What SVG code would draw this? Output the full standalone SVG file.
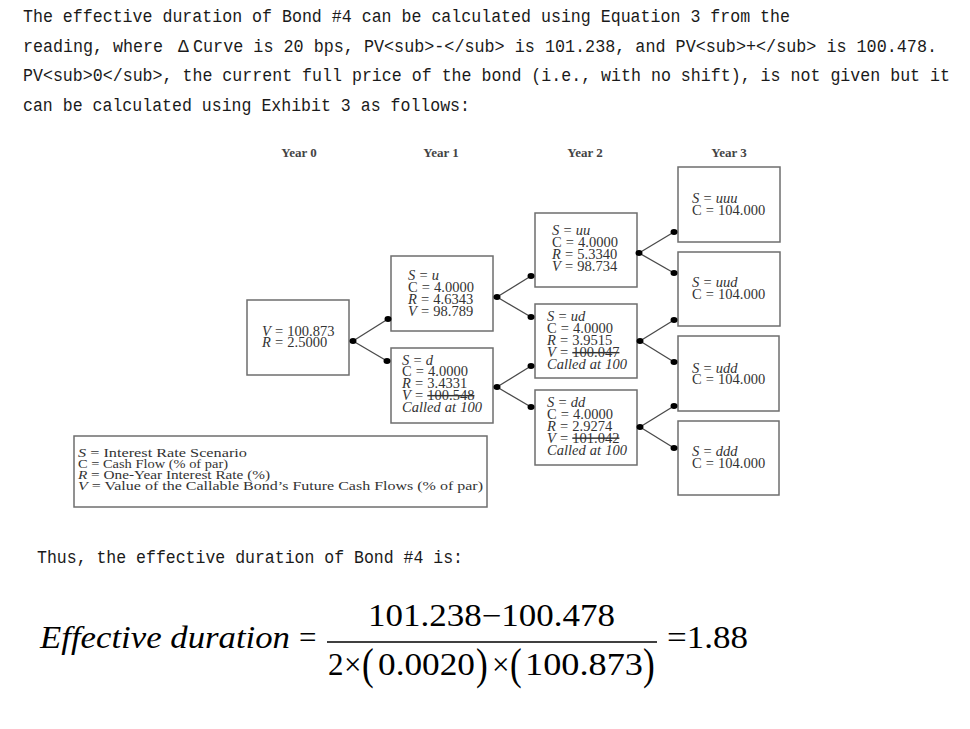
<svg xmlns="http://www.w3.org/2000/svg" width="970" height="729" viewBox="0 0 970 729">
<style>
.top{font-family:"Liberation Mono",monospace;font-size:18px;fill:#1a1a1a}
.yr{font-family:"Liberation Serif",serif;font-weight:bold;font-size:13px;fill:#444;text-anchor:middle}
.box{fill:#fff;stroke:#6e6e6e;stroke-width:1.5}
.nt{font-family:"Liberation Serif",serif;font-size:14.5px;fill:#333;word-spacing:0.5px}
.lg{font-family:"Liberation Serif",serif;font-size:13.5px;fill:#333}
.it{font-style:italic}
.st{text-decoration:line-through}
.conn line{stroke:#4a4a4a;stroke-width:1.3}
.conn ellipse{fill:#000}
.fm{font-family:"Liberation Serif",serif;font-size:31px;fill:#000}
</style>

<g id="intro">
<text class="top" x="23" y="22" textLength="767" lengthAdjust="spacingAndGlyphs">The effective duration of Bond #4 can be calculated using Equation 3 from the</text>
<text class="top" x="23" y="52" textLength="140" lengthAdjust="spacingAndGlyphs">reading, where</text>
<text class="top" x="178" y="52">Δ</text>
<text class="top" x="193" y="52" textLength="744" lengthAdjust="spacingAndGlyphs">Curve is 20 bps, PV&lt;sub&gt;-&lt;/sub&gt; is 101.238, and PV&lt;sub&gt;+&lt;/sub&gt; is 100.478.</text>
<text class="top" x="23" y="81" textLength="927" lengthAdjust="spacingAndGlyphs">PV&lt;sub&gt;0&lt;/sub&gt;, the current full price of the bond (i.e., with no shift), is not given but it</text>
<text class="top" x="23" y="111" textLength="447" lengthAdjust="spacingAndGlyphs">can be calculated using Exhibit 3 as follows:</text>
</g>

<g id="years">
<text class="yr" x="299" y="157">Year 0</text>
<text class="yr" x="441" y="157">Year 1</text>
<text class="yr" x="585" y="157">Year 2</text>
<text class="yr" x="729" y="157">Year 3</text>
</g>

<g id="connectors" class="conn">
<line x1="353" y1="341" x2="388" y2="319"/>
<line x1="353" y1="341" x2="387" y2="361"/>
<line x1="497" y1="297" x2="531" y2="276"/>
<line x1="497" y1="297" x2="531" y2="317"/>
<line x1="497" y1="387" x2="531" y2="366"/>
<line x1="497" y1="387" x2="531" y2="407"/>
<line x1="639" y1="253" x2="674" y2="232"/>
<line x1="639" y1="253" x2="674" y2="273"/>
<line x1="640" y1="341" x2="674" y2="320"/>
<line x1="640" y1="341" x2="674" y2="362"/>
<line x1="640" y1="427" x2="674" y2="406"/>
<line x1="640" y1="427" x2="674" y2="448"/>
</g>

<g id="node-0">
<rect class="box" x="247" y="300" width="102" height="75"/>
<text class="nt" x="262" y="336"><tspan class="it">V</tspan> = 100.873</text>
<text class="nt" x="262" y="347"><tspan class="it">R</tspan> = 2.5000</text>
</g>

<g id="node-u">
<rect class="box" x="391" y="256" width="102" height="75"/>
<text class="nt" x="408" y="279.5"><tspan class="it">S</tspan> = <tspan class="it">u</tspan></text>
<text class="nt" x="408" y="291.5">C = 4.0000</text>
<text class="nt" x="408" y="303.5"><tspan class="it">R</tspan> = 4.6343</text>
<text class="nt" x="408" y="315.5"><tspan class="it">V</tspan> = 98.789</text>
</g>

<g id="node-d">
<rect class="box" x="391" y="348" width="102" height="75"/>
<text class="nt" x="402" y="364.5"><tspan class="it">S</tspan> = <tspan class="it">d</tspan></text>
<text class="nt" x="402" y="376">C = 4.0000</text>
<text class="nt" x="402" y="388"><tspan class="it">R</tspan> = 3.4331</text>
<text class="nt" x="402" y="400"><tspan class="it">V</tspan> = <tspan class="st">100.548</tspan></text>
<text class="nt it" x="402" y="412">Called at 100</text>
</g>

<g id="node-uu">
<rect class="box" x="535" y="213" width="102" height="74"/>
<text class="nt" x="552" y="235"><tspan class="it">S</tspan> = <tspan class="it">uu</tspan></text>
<text class="nt" x="552" y="247">C = 4.0000</text>
<text class="nt" x="552" y="259"><tspan class="it">R</tspan> = 5.3340</text>
<text class="nt" x="552" y="271"><tspan class="it">V</tspan> = 98.734</text>
</g>

<g id="node-ud">
<rect class="box" x="535" y="304" width="102" height="74"/>
<text class="nt" x="547" y="321"><tspan class="it">S</tspan> = <tspan class="it">ud</tspan></text>
<text class="nt" x="547" y="333">C = 4.0000</text>
<text class="nt" x="547" y="345"><tspan class="it">R</tspan> = 3.9515</text>
<text class="nt" x="547" y="357"><tspan class="it">V</tspan> = <tspan class="st">100.047</tspan></text>
<text class="nt it" x="547" y="368.5">Called at 100</text>
</g>

<g id="node-dd">
<rect class="box" x="535" y="390" width="102" height="75"/>
<text class="nt" x="547" y="407"><tspan class="it">S</tspan> = <tspan class="it">dd</tspan></text>
<text class="nt" x="547" y="419">C = 4.0000</text>
<text class="nt" x="547" y="431"><tspan class="it">R</tspan> = 2.9274</text>
<text class="nt" x="547" y="442.5"><tspan class="it">V</tspan> = <tspan class="st">101.042</tspan></text>
<text class="nt it" x="547" y="455">Called at 100</text>
</g>

<g id="node-uuu">
<rect class="box" x="678" y="167" width="102" height="75"/>
<text class="nt" x="692" y="202.5"><tspan class="it">S</tspan> = <tspan class="it">uuu</tspan></text>
<text class="nt" x="692" y="214.5">C = 104.000</text>
</g>

<g id="node-uud">
<rect class="box" x="678" y="252" width="102" height="74"/>
<text class="nt" x="692" y="287"><tspan class="it">S</tspan> = <tspan class="it">uud</tspan></text>
<text class="nt" x="692" y="298.5">C = 104.000</text>
</g>

<g id="node-udd">
<rect class="box" x="678" y="336" width="101" height="75"/>
<text class="nt" x="692" y="372.5"><tspan class="it">S</tspan> = <tspan class="it">udd</tspan></text>
<text class="nt" x="692" y="383.5">C = 104.000</text>
</g>

<g id="node-ddd">
<rect class="box" x="678" y="421" width="101" height="74"/>
<text class="nt" x="692" y="456"><tspan class="it">S</tspan> = <tspan class="it">ddd</tspan></text>
<text class="nt" x="692" y="467.5">C = 104.000</text>
</g>

<g id="dots" class="conn">
<ellipse cx="353" cy="341" rx="3.5" ry="3"/>
<ellipse cx="388" cy="319" rx="3.5" ry="3"/>
<ellipse cx="387" cy="361" rx="3.5" ry="3"/>
<ellipse cx="497" cy="297" rx="3.5" ry="3"/>
<ellipse cx="531" cy="276" rx="3.5" ry="3"/>
<ellipse cx="531" cy="317" rx="3.5" ry="3"/>
<ellipse cx="497" cy="387" rx="3.5" ry="3"/>
<ellipse cx="531" cy="366" rx="3.5" ry="3"/>
<ellipse cx="531" cy="407" rx="3.5" ry="3"/>
<ellipse cx="639" cy="253" rx="3.5" ry="3"/>
<ellipse cx="674" cy="232" rx="3.5" ry="3"/>
<ellipse cx="674" cy="273" rx="3.5" ry="3"/>
<ellipse cx="640" cy="341" rx="3.5" ry="3"/>
<ellipse cx="674" cy="320" rx="3.5" ry="3"/>
<ellipse cx="674" cy="362" rx="3.5" ry="3"/>
<ellipse cx="640" cy="427" rx="3.5" ry="3"/>
<ellipse cx="674" cy="406" rx="3.5" ry="3"/>
<ellipse cx="674" cy="448" rx="3.5" ry="3"/>
</g>

<g id="legend">
<rect class="box" x="74" y="436" width="413" height="71"/>
<text class="lg" x="78" y="457" textLength="169" lengthAdjust="spacingAndGlyphs"><tspan class="it">S</tspan> = Interest Rate Scenario</text>
<text class="lg" x="78" y="468" textLength="150" lengthAdjust="spacingAndGlyphs">C = Cash Flow (% of par)</text>
<text class="lg" x="78" y="478.5" textLength="192" lengthAdjust="spacingAndGlyphs"><tspan class="it">R</tspan> = One-Year Interest Rate (%)</text>
<text class="lg" x="78" y="489.5" textLength="405" lengthAdjust="spacingAndGlyphs"><tspan class="it">V</tspan> = Value of the Callable Bond’s Future Cash Flows (% of par)</text>
</g>

<g id="conclusion">
<text class="top" x="37" y="563" textLength="426" lengthAdjust="spacingAndGlyphs">Thus, the effective duration of Bond #4 is:</text>
</g>

<g id="formula">
<text class="fm it" x="40" y="648" textLength="250" lengthAdjust="spacingAndGlyphs">Effective duration</text>
<text class="fm" x="299" y="648">=</text>
<text class="fm" x="368" y="626" textLength="247" lengthAdjust="spacingAndGlyphs">101.238−100.478</text>
<line x1="327" y1="642" x2="657" y2="642" stroke="#000" stroke-width="1.5"/>
<text class="fm" x="328" y="675">2</text>
<text class="fm" x="344" y="675">×</text>
<text class="fm" transform="translate(362,679) scale(0.8,1)" style="font-size:44px">(</text>
<text class="fm" x="378" y="675" textLength="97" lengthAdjust="spacingAndGlyphs">0.0020</text>
<text class="fm" transform="translate(476,679) scale(0.8,1)" style="font-size:44px">)</text>
<text class="fm" x="492" y="675">×</text>
<text class="fm" transform="translate(510,679) scale(0.8,1)" style="font-size:44px">(</text>
<text class="fm" x="525" y="675" textLength="118" lengthAdjust="spacingAndGlyphs">100.873</text>
<text class="fm" transform="translate(643,679) scale(0.8,1)" style="font-size:44px">)</text>
<text class="fm" x="667" y="648" textLength="81" lengthAdjust="spacingAndGlyphs">=1.88</text>
</g>
</svg>
